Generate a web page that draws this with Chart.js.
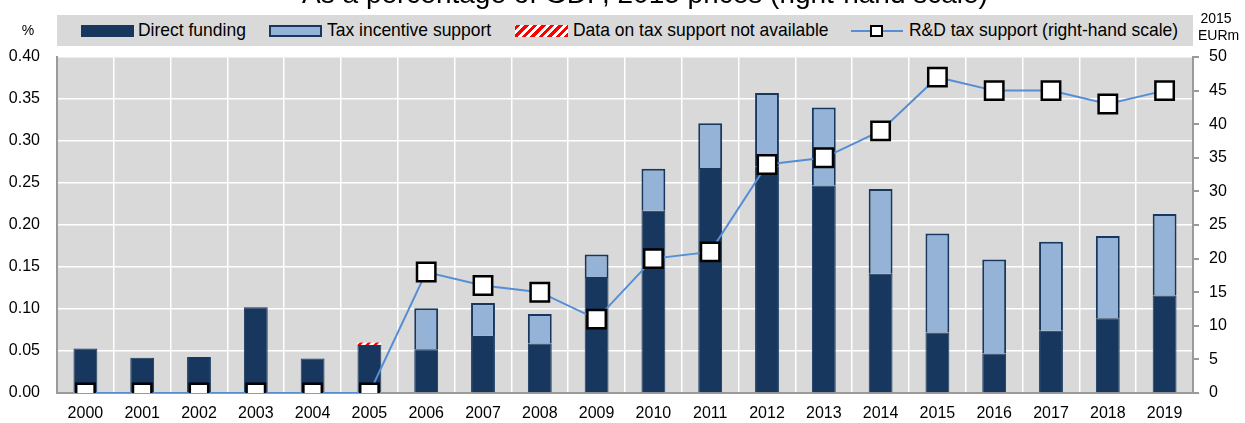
<!DOCTYPE html>
<html lang="en">
<head>
    <meta charset="UTF-8">
    <title>R&D support</title>
    <script src="https://cdn.jsdelivr.net/npm/chart.js"></script>
    <style>
        body { margin: 0; background: #fff; font-family: "Liberation Sans", Arial, sans-serif; }
        #wrap { position: relative; width: 1245px; height: 423px; overflow: hidden; }
        #legend { position: absolute; left: 57px; top: 15px; width: 1136px; height: 31px; background: #d9d9d9; }
        .sw { position: absolute; top: 10px; height: 12px; box-sizing: border-box; }
        .txt { position: absolute; top: 4px; font-size: 19px; line-height: 22px; white-space: nowrap;
               transform: scaleX(0.92); transform-origin: left center; color: #000; }
        .unit { position: absolute; font-size: 14px; color: #000; text-align: center; line-height: 17px; }
    </style>
</head>
<body>
<div id="wrap">
    <canvas id="Chart"></canvas>
    <div id="legend"></div>
    <div class="unit" style="left:18px; top:22px; width:20px;">%</div>
    <div class="unit" style="left:1198px; top:10px; width:36px;">2015<br>EURm</div>
</div>
<script>
    let years = ['2000','2001','2002','2003','2004','2005','2006','2007','2008','2009',
                 '2010','2011','2012','2013','2014','2015','2016','2017','2018','2019'];
    let directFunding = [0.053, 0.042, 0.043, 0.102, 0.041, 0.057, 0.052, 0.068, 0.059, 0.138,
                         0.217, 0.268, 0.270, 0.247, 0.142, 0.072, 0.047, 0.074, 0.089, 0.116];
    let taxIncentive = [0, 0, 0, 0, 0, 0, 0.049, 0.039, 0.035, 0.027,
                        0.050, 0.053, 0.087, 0.093, 0.101, 0.118, 0.112, 0.106, 0.098, 0.097];
    let notAvailable = [0, 0, 0, 0, 0, 0.003, 0, 0, 0, 0, 0, 0, 0, 0, 0, 0, 0, 0, 0, 0];
    let taxSupportEur = [0, 0, 0, 0, 0, 0, 18, 16, 15, 11, 20, 21, 34, 35, 39, 47, 45, 45, 43, 45];
    let leftTicks = [0, 0.05, 0.10, 0.15, 0.20, 0.25, 0.30, 0.35, 0.40];
    let rightTicks = [0, 5, 10, 15, 20, 25, 30, 35, 40, 45, 50];
    let titleText = 'As a percentage of GDP, 2015 prices (right-hand scale)';

    const dark = '#17375e';
    const light = '#95b3d7';
    const lineBlue = '#558ed5';
    const font = "'Liberation Sans', Arial, sans-serif";

    function hatch() {
        const c = document.createElement('canvas');
        c.width = 8; c.height = 8;
        const g = c.getContext('2d');
        g.fillStyle = '#fff'; g.fillRect(0, 0, 8, 8);
        g.strokeStyle = '#ff0000'; g.lineWidth = 2.5;
        g.beginPath();
        g.moveTo(-2, 10); g.lineTo(10, -2);
        g.moveTo(-6, 6); g.lineTo(6, -6);
        g.moveTo(2, 14); g.lineTo(14, 2);
        g.stroke();
        return g.createPattern(c, 'repeat');
    }
    const hatchFill = hatch();

    // gray plot background + the cut-off title line at the very top
    const bgPlugin = {
        id: 'bg',
        beforeDraw(chart) {
            const a = chart.chartArea, ctx = chart.ctx;
            ctx.save();
            ctx.fillStyle = '#d9d9d9';
            ctx.fillRect(a.left, a.top, a.right - a.left, a.bottom - a.top);
            ctx.font = '28px ' + font;
            ctx.fillStyle = '#000';
            ctx.textAlign = 'center';
            ctx.textBaseline = 'alphabetic';
            ctx.fillText(titleText, 645, 3);
            ctx.restore();
        }
    };

    const ctx = document.getElementById('Chart').getContext('2d');
    const chart = new Chart(ctx, {
        type: 'bar',
        data: {
            labels: years,
            datasets: [
                {
                    type: 'line',
                    label: 'R&D tax support (right-hand scale)',
                    data: taxSupportEur,
                    yAxisID: 'y2',
                    borderColor: lineBlue,
                    borderWidth: 2,
                    pointStyle: 'rect',
                    pointRadius: 13,
                    pointBackgroundColor: '#fff',
                    pointBorderColor: '#000',
                    pointBorderWidth: 2.5,
                    order: 0
                },
                {
                    label: 'Direct funding',
                    data: directFunding,
                    backgroundColor: dark,
                    borderColor: dark,
                    borderWidth: 1,
                    order: 1
                },
                {
                    label: 'Data on tax support not available',
                    data: notAvailable,
                    backgroundColor: hatchFill,
                    borderWidth: 0,
                    order: 1
                },
                {
                    label: 'Tax incentive support',
                    data: taxIncentive,
                    backgroundColor: light,
                    borderColor: dark,
                    borderWidth: 2,
                    order: 1
                }
            ]
        },
        options: {
            responsive: true,
            maintainAspectRatio: false,
            animation: false,
            layout: { padding: { top: 57, left: 0, right: 0, bottom: 0 } },
            datasets: { bar: { barPercentage: 0.42, categoryPercentage: 1.0 } },
            plugins: { legend: { display: false }, tooltip: { enabled: false } },
            scales: {
                x: {
                    stacked: true,
                    grid: { offset: true, color: '#ffffff', lineWidth: 1.5, drawTicks: false },
                    border: { color: '#9a9a9a', width: 2 },
                    ticks: { color: '#000', font: { family: font, size: 16 }, padding: 11, maxRotation: 0 },
                    afterFit: s => { s.height = 30; }
                },
                y: {
                    stacked: true,
                    min: 0, max: 0.4,
                    afterBuildTicks: s => { s.ticks = leftTicks.map(v => ({ value: v })); },
                    grid: { color: '#ffffff', lineWidth: 1.5, drawTicks: false },
                    border: { color: '#9a9a9a', width: 2 },
                    ticks: { color: '#000', font: { family: font, size: 16 }, padding: 17,
                             callback: v => v.toFixed(2) },
                    afterFit: s => { s.width = 57; }
                },
                y2: {
                    position: 'right',
                    min: 0, max: 50,
                    afterBuildTicks: s => { s.ticks = rightTicks.map(v => ({ value: v })); },
                    grid: { drawOnChartArea: false, drawTicks: true, tickLength: 6, color: '#9a9a9a', lineWidth: 2 },
                    border: { color: '#9a9a9a', width: 2 },
                    ticks: { color: '#000', font: { family: font, size: 16 }, padding: 10 },
                    afterFit: s => { s.width = 52; }
                }
            }
        },
        plugins: [bgPlugin]
    });

    // legend inside the gray band (x offsets relative to the band)
    const legend = document.getElementById('legend');
    const items = [
        { text: 'Direct funding', x: 24, tx: 81, sw: 'background:' + dark },
        { text: 'Tax incentive support', x: 212, tx: 270, sw: 'background:' + light + '; border:2px solid ' + dark },
        { text: 'Data on tax support not available', x: 458, tx: 516,
          sw: 'background: repeating-linear-gradient(-45deg, #ff0000 0 3px, #ffffff 3px 6px)' },
        { text: 'R&D tax support (right-hand scale)', x: 794, tx: 852, line: true }
    ];
    items.forEach(it => {
        if (it.line) {
            const s = document.createElementNS('http://www.w3.org/2000/svg', 'svg');
            s.setAttribute('width', '52'); s.setAttribute('height', '16');
            s.style.position = 'absolute'; s.style.left = it.x + 'px'; s.style.top = '8px';
            s.innerHTML = '<line x1="0" y1="8" x2="52" y2="8" stroke="' + lineBlue + '" stroke-width="2"/>' +
                '<rect x="20" y="3" width="11" height="10" fill="#fff" stroke="#000" stroke-width="2"/>';
            legend.appendChild(s);
        } else {
            const sw = document.createElement('div');
            sw.className = 'sw';
            sw.style.cssText = it.sw;
            sw.style.left = it.x + 'px';
            sw.style.width = '53px';
            legend.appendChild(sw);
        }
        const t = document.createElement('span');
        t.className = 'txt';
        t.style.left = it.tx + 'px';
        t.textContent = it.text;
        legend.appendChild(t);
    });
</script>
</body>
</html>
